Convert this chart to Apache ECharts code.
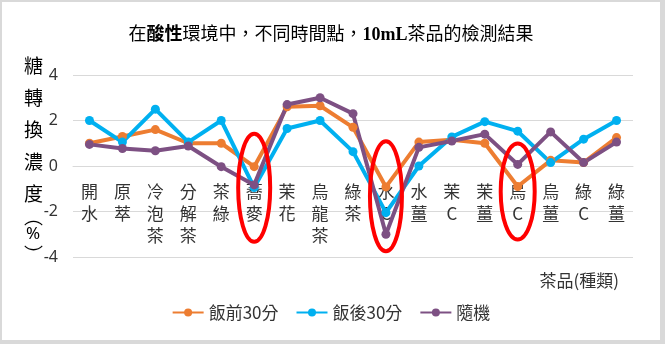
<!DOCTYPE html>
<html>
<head>
<meta charset="utf-8">
<script src="https://cdn.jsdelivr.net/npm/echarts@6/dist/echarts.min.js"></script>
<style>
  html, body { margin: 0; padding: 0; background: #fff; }
  #frame {
    width: 665px; height: 344px; box-sizing: border-box;
    border-style: solid; border-color: #d9d9d9;
    border-width: 2px 5px 4px 2px;
  }
  #chart { width: 658px; height: 338px; }
</style>
</head>
<body>
<div id="frame"><div id="chart"></div></div>
<script>
// tea samples (categories)
var categories = ['開水', '原萃', '冷泡茶', '分解茶', '茶綠', '蕎麥', '茉花', '烏龍茶', '綠茶',
  '水C', '水薑', '茉C', '茉薑', '烏C', '烏薑', '綠C', '綠薑'];

// sugar conversion concentration (%)
var before30 = [1.0, 1.3, 1.6, 1.0, 1.0, -0.03, 2.6, 2.65, 1.7, -0.92, 1.05, 1.15, 1.0, -0.9, 0.25, 0.15, 1.25];
var after30 = [2.0, 1.05, 2.5, 1.05, 2.0, -0.95, 1.65, 2.0, 0.63, -2.05, 0.0, 1.28, 1.95, 1.53, 0.15, 1.18, 2.0];
var random = [0.95, 0.77, 0.67, 0.88, -0.03, -0.83, 2.7, 3.0, 2.3, -3.0, 0.82, 1.1, 1.4, 0.07, 1.5, 0.15, 1.05];

// y axis ticks
var yMin = -4, yMax = 4, yStep = 2;

// circled samples: [category, centre value, width px, height px]
var circled = [
  ['蕎麥', -0.96, 32, 108],
  ['水C', -1.33, 32, 110],
  ['烏C', -1.12, 34, 96]
];

var seriesNames = ['飯前30分', '飯後30分', '隨機'];
var colors = ['#ED7D31', '#00B0F0', '#7D5083'];

var chart = echarts.init(document.getElementById('chart'));

function lineSeries(name, data, color) {
  return {
    name: name,
    type: 'line',
    data: data,
    symbol: 'circle',
    symbolSize: 9,
    lineStyle: { width: 4, color: color },
    itemStyle: { color: color },
    emphasis: { disabled: true }
  };
}

var serif = '"Liberation Serif", "Noto Sans CJK TC", serif';
var sans = '"Noto Sans CJK TC", sans-serif';

var option = {
  animation: false,
  backgroundColor: '#fff',
  title: {
    left: 'center',
    top: 24,
    padding: 0,
    text: '{n|在}{b|酸性}{n|環境中，不同時間點，}{b|10mL}{n|茶品的檢測結果}',
    textStyle: {
      fontWeight: 'normal',
      rich: {
        n: { fontSize: 18, fontWeight: 'normal', fontFamily: serif, color: '#000' },
        b: { fontSize: 18, fontWeight: 'bold', fontFamily: serif, color: '#000' }
      }
    }
  },
  legend: {
    bottom: 14,
    left: 'center',
    itemWidth: 31,
    itemHeight: 10,
    itemGap: 17,
    data: seriesNames,
    textStyle: { fontSize: 17, color: '#333', fontFamily: sans }
  },
  grid: { left: 71, right: 27, top: 73, bottom: 83, containLabel: false },
  xAxis: {
    type: 'category',
    data: categories,
    boundaryGap: true,
    offset: -91,   // category labels sit under the zero line
    axisLine: { show: true, onZero: false, lineStyle: { color: '#d9d9d9', width: 1 } },
    axisTick: { show: false },
    axisLabel: {
      interval: 0,
      margin: 15,
      fontSize: 17,
      lineHeight: 22,
      color: '#333',
      fontFamily: sans,
      formatter: function (v) { return v.split('').join('\n'); }
    }
  },
  yAxis: {
    type: 'value',
    min: yMin,
    max: yMax,
    interval: yStep,
    axisLine: { show: false },
    axisTick: { show: false },
    splitLine: { lineStyle: { color: '#d9d9d9', width: 1 } },
    axisLabel: { fontSize: 16, margin: 15, color: '#333', fontFamily: '"Noto Sans", sans-serif' }
  },
  graphic: [
    {
      type: 'text',
      left: 22,
      top: 54,
      style: {
        text: '{a|糖}\n{a|轉}\n{a|換}\n{a|濃}\n{a|度}\n{p|︵}\n{c|%}\n{q|︶}',
        rich: {
          a: { fontSize: 19, lineHeight: 32, color: '#333', fontFamily: sans },
          p: { fontSize: 19, lineHeight: 14, color: '#333', fontFamily: sans },
          c: { fontSize: 17, lineHeight: 22, color: '#333', fontFamily: '"Noto Sans", sans-serif', padding: [0, 0, 0, 2] },
          q: { fontSize: 19, lineHeight: 18, color: '#333', fontFamily: sans }
        }
      }
    },
    {
      type: 'text',
      right: 41,
      top: 270,
      style: {
        text: '茶品(種類)',
        fontSize: 17,
        fill: '#333',
        fontFamily: sans
      }
    }
  ],
  series: [
    lineSeries(seriesNames[0], before30, colors[0]),
    lineSeries(seriesNames[1], after30, colors[1]),
    lineSeries(seriesNames[2], random, colors[2])
  ]
};

chart.setOption(option);

// red ellipses, placed through the chart's own scales
chart.setOption({
  graphic: circled.map(function (c, i) {
    var p = chart.convertToPixel({ gridIndex: 0 }, [c[0], c[1]]);
    return {
      id: 'ring' + i,
      type: 'ellipse',
      z: 100,
      silent: true,
      shape: { cx: p[0], cy: p[1], rx: c[2] / 2, ry: c[3] / 2 },
      style: { fill: 'none', stroke: '#FF0000', lineWidth: 4 }
    };
  })
});
</script>
</body>
</html>
